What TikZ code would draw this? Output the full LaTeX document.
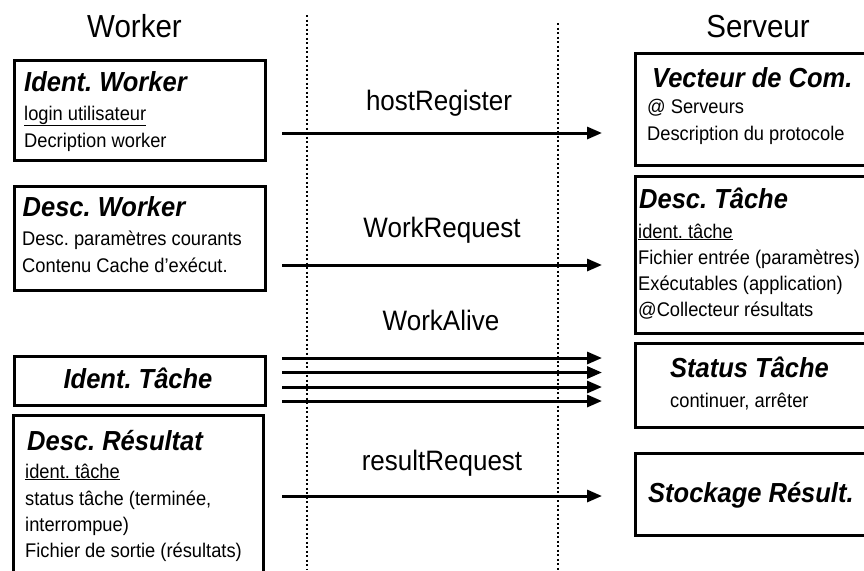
\documentclass[tikz,border=0pt]{standalone}
\usepackage{fontspec}
\setmainfont{Liberation Sans}
\usetikzlibrary{arrows.meta}
\frenchspacing
\newcommand\hdfont{\fontsize{25.5}{30}\selectfont\bfseries\itshape}
\newcommand\smfont{\fontsize{18.3}{22}\selectfont}
\newcommand\lbfont{\fontsize{26}{31}\selectfont}
\newcommand\ttlfont{\fontsize{29.5}{35}\selectfont}
\newcommand\vs[1]{\scalebox{1}[1.08]{#1}}
\begin{document}
\begin{tikzpicture}[x=1pt,y=-1pt,
  box/.style={draw, line width=3pt, inner sep=0pt, anchor=north west},
  hd/.style={anchor=base west, inner sep=0pt, font=\hdfont},
  sm/.style={anchor=base west, inner sep=0pt, font=\smfont},
  lb/.style={anchor=base, inner sep=0pt, font=\lbfont},
  ttl/.style={anchor=base, inner sep=0pt, font=\ttlfont},
  msg/.style={line width=3pt, -{Triangle[length=15pt,width=12pt]}},
  dotline/.style={line width=1.3pt, dash pattern=on 2pt off 2.5pt}]
\path[use as bounding box] (0,0) rectangle (864,570);
\clip (0,0) rectangle (864,570);

% titles
\node[ttl] (tw) at (134.5,37) {\vs{Worker}};
\node[ttl] (ts) at (758,37) {\vs{Serveur}};

% dotted separators
\coordinate (d1t) at (307,15); \coordinate (d1b) at (307,570);
\coordinate (d2t) at (558,23); \coordinate (d2b) at (558,570);
\draw[dotline] (d1t) -- (d1b);
\draw[dotline] (d2t) -- (d2b);

% left boxes
\node[box, minimum width=251pt, minimum height=100pt] (L1) at (12.5,58.5) {};
\node[box, minimum width=251pt, minimum height=104pt] (L2) at (12.5,184.5) {};
\node[box, minimum width=251pt, minimum height=49pt] (L3) at (12.5,354.5) {};
\node[box, minimum width=250.5pt, minimum height=200pt] (L4) at (11.5,413.5) {};

\node[hd] (l1a) at (24,91) {\vs{Ident. Worker}};
\node[sm] (l1b) at (24,120) {\vs{\underline{login utilisateur}}};
\node[sm] (l1c) at (24,147) {\vs{Decription worker}};

\node[hd] (l2a) at (22.5,216) {\vs{Desc. Worker}};
\node[sm] (l2b) at (22,245) {\vs{Desc. paramètres courants}};
\node[sm] (l2c) at (22,272) {\vs{Contenu Cache d’exécut.}};

\node[anchor=base, inner sep=0pt, font=\hdfont] (l3a) at (138,388) {\vs{Ident. Tâche}};

\node[hd] (l4a) at (27,450) {\vs{Desc. Résultat}};
\node[sm] (l4b) at (25,478) {\vs{\underline{ident. tâche}}};
\node[sm] (l4c) at (25,505) {\vs{status tâche (terminée,}};
\node[sm] (l4d) at (25,531) {\vs{interrompue)}};
\node[sm] (l4e) at (25,557) {\vs{Fichier de sortie (résultats)}};

% right boxes
\node[box, minimum width=280pt, minimum height=112pt] (R1) at (633.5,51.5) {};
\node[box, minimum width=280pt, minimum height=157pt] (R2) at (633.5,174.5) {};
\node[box, minimum width=280pt, minimum height=84pt] (R3) at (633.5,341.5) {};
\node[box, minimum width=280pt, minimum height=82pt] (R4) at (633.5,451.5) {};

\node[hd] (r1a) at (652,87) {\vs{Vecteur de Com.}};
\node[sm] (r1b) at (647,113) {\vs{@ Serveurs}};
\node[sm] (r1c) at (647,140) {\vs{Description du protocole}};

\node[hd] (r2a) at (639,208) {\vs{Desc. Tâche}};
\node[sm] (r2b) at (638,238) {\vs{\underline{ident. tâche}}};
\node[sm] (r2c) at (638,264) {\vs{Fichier entrée (paramètres)}};
\node[sm] (r2d) at (638,290) {\vs{Exécutables (application)}};
\node[sm] (r2e) at (638,316) {\vs{@Collecteur résultats}};

\node[hd] (r3a) at (670,377) {\vs{Status Tâche}};
\node[sm] (r3b) at (670,407) {\vs{continuer, arrêter}};

\node[hd] (r4a) at (648,502) {\vs{Stockage Résult.}};

% messages
\coordinate (a1s) at (282,133); \coordinate (a1e) at (602,133);
\coordinate (a2s) at (282,265); \coordinate (a2e) at (602,265);
\coordinate (a3s) at (282,358); \coordinate (a3e) at (602,358);
\coordinate (a4s) at (282,372.5); \coordinate (a4e) at (602,372.5);
\coordinate (a5s) at (282,387); \coordinate (a5e) at (602,387);
\coordinate (a6s) at (282,401); \coordinate (a6e) at (602,401);
\coordinate (a7s) at (282,496); \coordinate (a7e) at (602,496);
\draw[msg] (a1s) -- (a1e);
\draw[msg] (a2s) -- (a2e);
\draw[msg] (a3s) -- (a3e);
\draw[msg] (a4s) -- (a4e);
\draw[msg] (a5s) -- (a5e);
\draw[msg] (a6s) -- (a6e);
\draw[msg] (a7s) -- (a7e);

\node[lb] (m1) at (439,110) {\vs{hostRegister}};
\node[lb] (m2) at (442,237) {\vs{WorkRequest}};
\node[lb] (m3) at (441,330) {\vs{WorkAlive}};
\node[lb] (m4) at (442,470) {\vs{resultRequest}};
\end{tikzpicture}
\end{document}
